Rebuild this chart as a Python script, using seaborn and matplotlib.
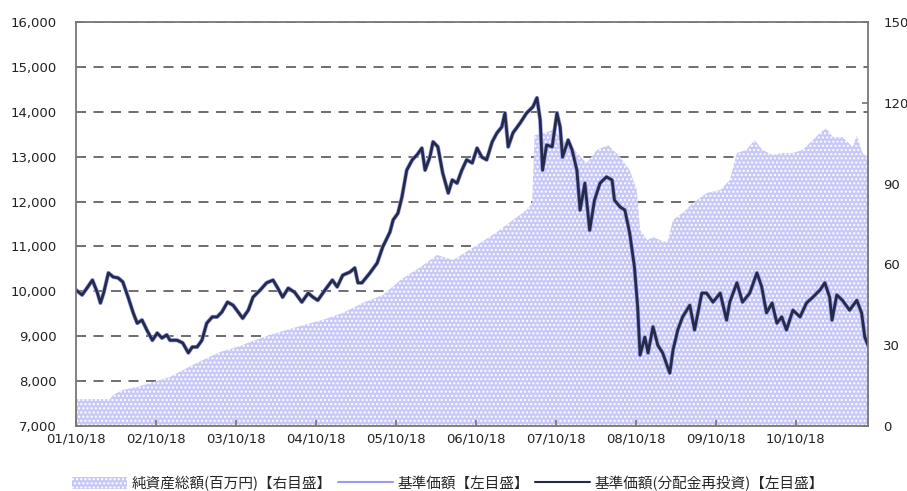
import matplotlib
matplotlib.use("Agg")
import matplotlib.pyplot as plt
import matplotlib.dates as mdates
from matplotlib.patches import Patch
from matplotlib.lines import Line2D
from matplotlib.ticker import FuncFormatter
import pandas as pd
import seaborn as sns

# NAV (decimal year, yen)
nav_years = [
    2001.795, 2001.87, 2001.93, 2002.00, 2002.06, 2002.10, 2002.14, 2002.20, 2002.26, 2002.32,
    2002.38, 2002.45, 2002.51, 2002.56, 2002.62, 2002.68, 2002.75, 2002.81, 2002.87, 2002.93,
    2002.97, 2003.06, 2003.13, 2003.20, 2003.25, 2003.31, 2003.37, 2003.43, 2003.50, 2003.56,
    2003.62, 2003.69, 2003.76, 2003.88, 2003.95, 2004.01, 2004.10, 2004.18, 2004.26, 2004.32,
    2004.38, 2004.45, 2004.53, 2004.62, 2004.70, 2004.76, 2004.82, 2004.91, 2005.00, 2005.06,
    2005.13, 2005.22, 2005.28, 2005.32, 2005.37, 2005.47, 2005.56, 2005.63, 2005.72, 2005.76,
    2005.82, 2005.87, 2005.93, 2006.00, 2006.06, 2006.12, 2006.16, 2006.22, 2006.26, 2006.32,
    2006.38, 2006.45, 2006.50, 2006.56, 2006.62, 2006.68, 2006.75, 2006.81, 2006.87, 2006.93,
    2007.00, 2007.06, 2007.12, 2007.16, 2007.20, 2007.26, 2007.35, 2007.43, 2007.51, 2007.56,
    2007.60, 2007.63, 2007.68, 2007.75, 2007.81, 2007.85, 2007.88, 2007.95, 2008.00, 2008.06,
    2008.10, 2008.16, 2008.22, 2008.28, 2008.35, 2008.43, 2008.50, 2008.53, 2008.60, 2008.66,
    2008.72, 2008.78, 2008.82, 2008.85, 2008.91, 2008.95, 2009.01, 2009.07, 2009.13, 2009.22,
    2009.26, 2009.32, 2009.38, 2009.47, 2009.53, 2009.62, 2009.68, 2009.76, 2009.85, 2009.93,
    2009.97, 2010.06, 2010.13, 2010.22, 2010.31, 2010.37, 2010.43, 2010.50, 2010.56, 2010.62,
    2010.68, 2010.76, 2010.85, 2010.93, 2011.01, 2011.10, 2011.16, 2011.22, 2011.25, 2011.31,
    2011.38, 2011.47, 2011.56, 2011.62, 2011.66, 2011.70,
]
nav_values = [
    10030, 9920, 10070, 10250, 9980, 9740, 9960, 10410, 10320, 10300,
    10210, 9850, 9520, 9290, 9360, 9140, 8910, 9070, 8960, 9030,
    8910, 8910, 8850, 8630, 8760, 8760, 8910, 9290, 9430, 9430,
    9540, 9760, 9690, 9400, 9580, 9870, 10030, 10190, 10250, 10070,
    9870, 10070, 9980, 9760, 9960, 9870, 9800, 10030, 10250, 10100,
    10360, 10430, 10520, 10190, 10190, 10410, 10630, 10990, 11320, 11590,
    11740, 12100, 12700, 12930, 13040, 13190, 12700, 12990, 13330, 13220,
    12640, 12190, 12480, 12410, 12700, 12930, 12860, 13190, 12990, 12930,
    13330, 13530, 13660, 13970, 13220, 13530, 13750, 13970, 14110, 14310,
    13820, 12700, 13260, 13220, 13970, 13660, 12990, 13370, 13150, 12700,
    11810, 12410, 11360, 12030, 12410, 12550, 12480, 12030, 11880, 11810,
    11300, 10540, 9650, 8580, 8980, 8630, 9210, 8800, 8630, 8180,
    8690, 9140, 9430, 9690, 9140, 9960, 9960, 9760, 9960, 9360,
    9760, 10190, 9760, 9960, 10410, 10100, 9520, 9740, 9290, 9430,
    9140, 9580, 9430, 9740, 9870, 10030, 10190, 9870, 9360, 9920,
    9800, 9580, 9800, 9520, 8980, 8800,
]

# net assets (decimal year, million yen)
asset_years = [
    2001.795, 2002.22, 2002.26, 2002.38, 2002.56, 2002.76, 2002.97, 2003.18, 2003.38, 2003.60,
    2003.85, 2003.97, 2004.22, 2004.56, 2004.88, 2005.13, 2005.38, 2005.63, 2005.85, 2006.10,
    2006.31, 2006.51, 2006.81, 2007.06, 2007.26, 2007.43, 2007.50, 2007.53, 2007.66, 2007.76,
    2007.88, 2008.03, 2008.18, 2008.31, 2008.45, 2008.60, 2008.72, 2008.81, 2008.85, 2008.94,
    2009.01, 2009.10, 2009.19, 2009.26, 2009.38, 2009.51, 2009.68, 2009.85, 2009.97, 2010.06,
    2010.18, 2010.28, 2010.38, 2010.51, 2010.63, 2010.76, 2010.88, 2011.01, 2011.10, 2011.18,
    2011.26, 2011.38, 2011.51, 2011.56, 2011.63, 2011.70,
]
asset_values = [
    10.0, 10.0, 11.5, 13.4, 14.5, 16.3, 18.2, 21.5, 24.5, 27.5,
    29.7, 31.2, 33.8, 36.8, 39.4, 42.0, 45.7, 48.6, 54.2, 59.0,
    63.5, 61.6, 67.2, 72.0, 76.5, 80.2, 82.8, 108.0, 108.8, 110.0,
    106.2, 102.5, 97.6, 102.5, 104.3, 99.9, 95.0, 87.6, 72.8, 69.0,
    70.2, 69.0, 68.0, 76.5, 79.1, 82.8, 86.5, 87.6, 91.3, 101.4,
    102.5, 106.2, 102.5, 100.6, 101.4, 101.4, 102.5, 106.2, 108.8, 110.6,
    107.3, 107.3, 103.6, 108.0, 101.4, 99.9,
]

left_ticks = [7000, 8000, 9000, 10000, 11000, 12000, 13000, 14000, 15000, 16000]
right_ticks = [0, 30, 60, 90, 120, 150]
tick_dates = pd.date_range("2001-10-18", periods=10, freq=pd.DateOffset(years=1))

label_assets = "純資産総額(百万円)【右目盛】"
label_nav = "基準価額【左目盛】"
label_nav_re = "基準価額(分配金再投資)【左目盛】"


def to_dates(years):
    out = []
    for t in years:
        y = int(t)
        out.append(pd.Timestamp(year=y, month=1, day=1) + pd.Timedelta(days=(t - y) * 365.25))
    return pd.to_datetime(out)


nav = pd.DataFrame({"date": to_dates(nav_years), "value": nav_values})
assets = pd.DataFrame({"date": to_dates(asset_years), "value": asset_values})

sns.set_theme(style="white")
plt.rcParams["font.family"] = ["DejaVu Sans", "Noto Sans CJK JP"]
plt.rcParams["hatch.linewidth"] = 1.0

area_color = "#c9c9f7"
light_line = "#9a9af0"
dark_line = "#232b45"
spine_color = "#777777"

fig = plt.figure(figsize=(9.07, 4.91), dpi=100)
ax1 = fig.add_axes([0.0838, 0.1324, 0.8732, 0.8228])
ax2 = ax1.twinx()
ax3 = ax1.twinx()

# grid + left scale
ax1.set_ylim(left_ticks[0], left_ticks[-1])
ax1.set_yticks(left_ticks)
ax1.yaxis.set_major_formatter(FuncFormatter(lambda v, p: f"{int(v):,}"))
ax1.grid(axis="y", color="#555555", linestyle=(0, (6, 4.5)), linewidth=1.2)
ax1.grid(axis="x", visible=False)
ax1.tick_params(axis="y", direction="in", length=4, pad=14, labelsize=9.5,
                colors="#222222", color=spine_color)
ax1.tick_params(axis="x", bottom=False, labelbottom=False)

# net assets on right scale
ax2.fill_between(assets["date"], 0, assets["value"], facecolor=area_color,
                 edgecolor="white", hatch="....", linewidth=0)
ax2.set_ylim(right_ticks[0], right_ticks[-1])
ax2.set_yticks(right_ticks)
ax2.tick_params(axis="y", direction="in", length=4, pad=11, labelsize=9.5,
                colors="#222222", color=spine_color)

# NAV lines on top
sns.lineplot(data=nav, x="date", y="value", ax=ax3, color=light_line,
             linewidth=3.0, legend=False)
sns.lineplot(data=nav, x="date", y="value", ax=ax3, color=dark_line,
             linewidth=2.0, legend=False)
ax3.set_ylim(left_ticks[0], left_ticks[-1])
ax3.set_yticks([])
ax3.set_ylabel("")
ax3.set_xlabel("")
ax3.xaxis.set_visible(True)
ax3.set_xlim(tick_dates[0], nav["date"].iloc[-1])
ax3.set_xticks(tick_dates)
ax3.xaxis.set_major_formatter(mdates.DateFormatter("%y/%m/%d"))
ax3.tick_params(axis="x", bottom=True, labelbottom=True, direction="in", length=4,
                pad=5, labelsize=9.5, colors="#222222", color=spine_color)

for ax in (ax1, ax2):
    for s in ax.spines.values():
        s.set_visible(False)
for s in ax3.spines.values():
    s.set_visible(True)
    s.set_color(spine_color)
    s.set_linewidth(1.3)

handles = [
    Patch(facecolor=area_color, edgecolor="white", hatch="....", linewidth=0),
    Line2D([0], [0], color=light_line, linewidth=1.5),
    Line2D([0], [0], color=dark_line, linewidth=1.5),
]
fig.legend(handles, [label_assets, label_nav, label_nav_re], loc="center",
           bbox_to_anchor=(0.494, 0.016), ncol=3, frameon=False,
           prop={"family": ["Noto Sans CJK JP", "DejaVu Sans"], "size": 10.5},
           handlelength=3.8, handleheight=0.9, handletextpad=0.3, columnspacing=0.4)

fig.savefig("out.png", dpi=100)
